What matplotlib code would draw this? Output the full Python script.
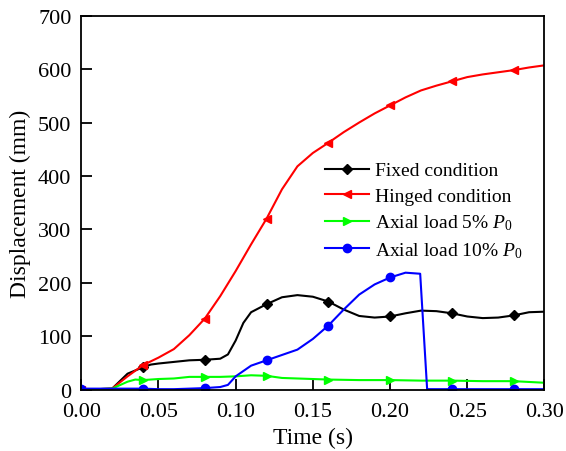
import numpy as np
import matplotlib
matplotlib.use("Agg")
import matplotlib.pyplot as plt

plt.rcParams['font.family'] = 'Liberation Serif'
plt.rcParams['mathtext.fontset'] = 'custom'
plt.rcParams['mathtext.rm'] = 'Liberation Serif'
plt.rcParams['mathtext.it'] = 'Liberation Serif:italic'

# data (time in s, displacement in mm)
t_fixed = [0.0, 0.02, 0.03, 0.04, 0.045, 0.05, 0.06, 0.07, 0.08, 0.09, 0.095, 0.10, 0.105,
           0.11, 0.12, 0.13, 0.14, 0.15, 0.16, 0.17, 0.18, 0.19, 0.20, 0.21, 0.22, 0.23,
           0.24, 0.25, 0.26, 0.27, 0.28, 0.29, 0.30]
d_fixed = [0, 2, 30, 42, 47, 49, 52, 55, 56, 58, 66, 92, 125, 145, 160, 173, 177, 174, 165,
           150, 138, 135, 137, 143, 148, 147, 143, 137, 134, 135, 139, 145, 146]

t_hinged = [0.0, 0.02, 0.03, 0.04, 0.05, 0.06, 0.07, 0.08, 0.09, 0.10, 0.11, 0.12, 0.13,
            0.14, 0.15, 0.16, 0.17, 0.18, 0.19, 0.20, 0.21, 0.22, 0.23, 0.24, 0.25, 0.26,
            0.27, 0.28, 0.29, 0.30]
d_hinged = [0, 2, 25, 46, 60, 76, 102, 133, 175, 222, 272, 320, 375, 418, 443, 462, 482,
            500, 517, 532, 547, 560, 569, 577, 585, 590, 594, 598, 603, 607]

t_axial5 = [0.0, 0.02, 0.03, 0.035, 0.04, 0.05, 0.06, 0.07, 0.08, 0.09, 0.10, 0.11, 0.12,
            0.13, 0.14, 0.15, 0.16, 0.18, 0.20, 0.22, 0.24, 0.26, 0.28, 0.30]
d_axial5 = [0, 2, 15, 19, 18, 20, 21, 24, 24, 24, 25, 27, 26, 22, 21, 20, 19, 18, 18, 17,
            17, 16, 16, 13]

t_axial10 = [0.0, 0.02, 0.04, 0.05, 0.06, 0.07, 0.08, 0.09, 0.095, 0.10, 0.105, 0.11, 0.12,
             0.13, 0.14, 0.15, 0.16, 0.17, 0.18, 0.19, 0.20, 0.21, 0.2195, 0.224, 0.24,
             0.28, 0.30]
d_axial10 = [2, 2, 2, 1, 1, 2, 3, 5, 9, 25, 35, 45, 55, 65, 75, 95, 120, 150, 178, 197,
             210, 219, 217, 1, 1, 1, 1]

x_ticks = [0.00, 0.05, 0.10, 0.15, 0.20, 0.25, 0.30]
y_ticks = [0, 100, 200, 300, 400, 500, 600, 700]


def marks(t):
    # markers sit every 0.04 s
    return [i for i, v in enumerate(t) if np.isclose(v / 0.04, round(v / 0.04))]


fig = plt.figure(figsize=(5.66, 4.52), dpi=100)
ax = fig.add_axes([0.1435, 0.1356, 0.8185, 0.8276])

ax.plot(t_fixed, d_fixed, '-k', marker='D', ms=5, lw=1.5, markevery=marks(t_fixed),
        label='Fixed condition')
ax.plot(t_hinged, d_hinged, '-', color='#ff0000', marker='<', ms=6, lw=1.5,
        markevery=marks(t_hinged), label='Hinged condition')
ax.plot(t_axial5, d_axial5, '-', color='#00ff00', marker='>', ms=6, lw=1.5,
        markevery=marks(t_axial5), label=r'Axial load 5% $\mathit{P_0}$')
ax.plot(t_axial10, d_axial10, '-', color='#0000ff', marker='o', ms=6, lw=1.5,
        markevery=marks(t_axial10), label=r'Axial load 10% $\mathit{P_0}$')

ax.set_xlim(0, 0.30)
ax.set_ylim(0, 700)
ax.set_xticks(x_ticks)
ax.set_xticklabels(['%.2f' % v for v in x_ticks])
ax.set_yticks(y_ticks)
ax.tick_params(direction='in', labelsize=16, length=8, width=1.3)
ax.tick_params(axis='y', pad=7)
ax.tick_params(axis='x', pad=9)
ax.set_xlabel('Time (s)', fontsize=17, labelpad=4)
ax.set_ylabel('Displacement (mm)', fontsize=17, labelpad=5)
for s in ax.spines.values():
    s.set_linewidth(1.3)

ax.legend(loc='upper left', bbox_to_anchor=(0.51, 0.63), frameon=False, fontsize=14,
          handlelength=2.25, handletextpad=0.3, labelspacing=0.4, borderaxespad=0)

fig.savefig('out.png', dpi=100)
